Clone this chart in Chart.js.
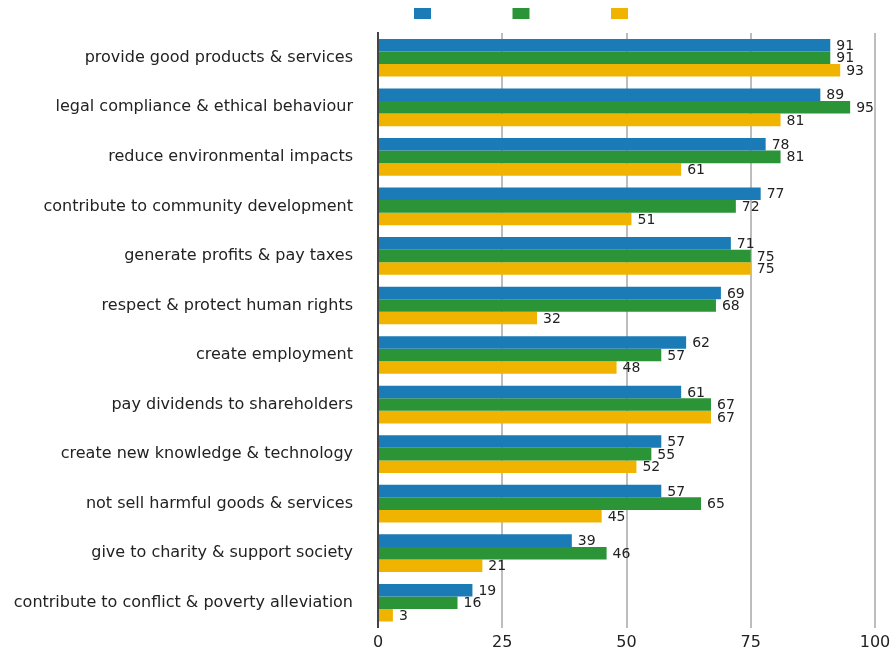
<!DOCTYPE html>
<html>
<head>
<meta charset="utf-8">
<script src="https://cdn.jsdelivr.net/npm/chart.js@4.4.1/dist/chart.umd.min.js"></script>
<style>
  html, body { margin: 0; padding: 0; background: #fff; overflow: hidden; }
  canvas { display: block; }
</style>
</head>
<body>
<canvas id="grafico" width="894" height="651"></canvas>
<script>
// Categorias e valores
const categorias = [
  "provide good products & services",
  "legal compliance & ethical behaviour",
  "reduce environmental impacts",
  "contribute to community development",
  "generate profits & pay taxes",
  "respect & protect human rights",
  "create employment",
  "pay dividends to shareholders",
  "create new knowledge & technology",
  "not sell harmful goods & services",
  "give to charity & support society",
  "contribute to conflict & poverty alleviation"
];
const serieAzul = [91, 89, 78, 77, 71, 69, 62, 61, 57, 57, 39, 19];
const serieVerde = [91, 95, 81, 72, 75, 68, 57, 67, 55, 65, 46, 16];
const serieAmarela = [93, 81, 61, 51, 75, 32, 48, 67, 52, 45, 21, 3];
const ticksX = [0, 25, 50, 75, 100];

const fonte = "'DejaVu Sans', sans-serif";

// Escreve o valor no fim de cada barra
const rotulosBarras = {
  id: 'rotulosBarras',
  afterDatasetsDraw(chart) {
    const ctx = chart.ctx;
    ctx.save();
    ctx.font = "14px " + fonte;
    ctx.fillStyle = "#222";
    ctx.textBaseline = "middle";
    ctx.textAlign = "left";
    chart.data.datasets.forEach((ds, i) => {
      chart.getDatasetMeta(i).data.forEach((bar, j) => {
        ctx.fillText(ds.data[j], bar.x + 6, bar.y + 1);
      });
    });
    ctx.restore();
  }
};

// Legenda só com as caixas coloridas
const legendaCaixas = {
  id: 'legendaCaixas',
  afterDraw(chart) {
    const ctx = chart.ctx;
    ctx.save();
    chart.data.datasets.forEach((ds, i) => {
      ctx.fillStyle = ds.backgroundColor;
      ctx.fillRect(414 + i * 98.5, 8, 17, 11);
    });
    ctx.restore();
  }
};

new Chart(document.getElementById('grafico'), {
  type: 'bar',
  data: {
    labels: categorias,
    datasets: [
      { label: '', data: serieAzul, backgroundColor: '#1b7bb6' },
      { label: '', data: serieVerde, backgroundColor: '#2a9437' },
      { label: '', data: serieAmarela, backgroundColor: '#f0b400' }
    ]
  },
  options: {
    indexAxis: 'y',
    responsive: false,
    animation: false,
    events: [],
    layout: { padding: { top: 33, right: 19, bottom: 0, left: 0 } },
    datasets: { bar: { barPercentage: 1, categoryPercentage: 0.76 } },
    plugins: {
      legend: { display: false },
      tooltip: { enabled: false }
    },
    scales: {
      x: {
        min: 0,
        max: 100,
        afterBuildTicks(scale) {
          scale.ticks = ticksX.map(v => ({ value: v }));
        },
        afterFit(scale) {
          scale.height = 23.5;
          scale.paddingLeft = 0;
          scale.paddingRight = 0;
        },
        grid: { color: '#bdbdbd', lineWidth: 2, drawTicks: false },
        border: { display: false },
        ticks: { color: '#222', font: { family: fonte, size: 16 }, padding: 6 }
      },
      y: {
        afterFit(scale) {
          scale.width = 378;
          scale.paddingTop = 0;
          scale.paddingBottom = 0;
        },
        grid: { display: false, drawTicks: false },
        border: { display: true, color: '#444', width: 2 },
        ticks: { color: '#222', font: { family: fonte, size: 16 }, padding: 25 }
      }
    }
  },
  plugins: [rotulosBarras, legendaCaixas]
});
</script>
</body>
</html>
